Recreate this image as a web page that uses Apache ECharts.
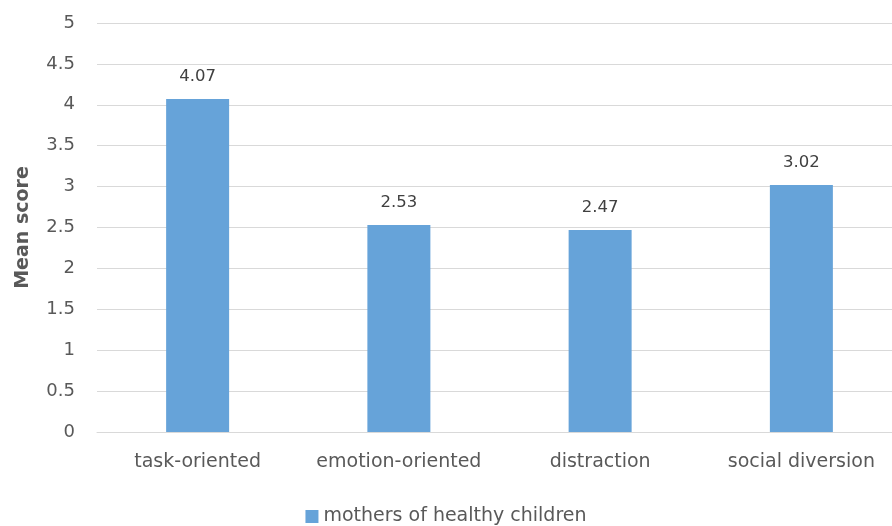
<!DOCTYPE html>
<html><head><meta charset="utf-8">
<script src="https://cdn.jsdelivr.net/npm/echarts@6/dist/echarts.min.js"></script>
<style>html,body{margin:0;padding:0;background:#fff;}#c{width:892px;height:526px;}</style>
</head><body><div id="c"></div>
<script>
const categories = ['task-oriented','emotion-oriented','distraction','social diversion'];
const values = [4.07, 2.53, 2.47, 3.02];
const seriesName = 'mothers of healthy children';
const FONT = '"DejaVu Sans",sans-serif';
const chart = echarts.init(document.getElementById('c'), null, {renderer:'canvas'});
chart.setOption({
  animation:false,
  textStyle:{fontFamily:FONT},
  grid:{left:97, top:23, width:805, height:409, outerBoundsMode:'none', containLabel:false},
  legend:{bottom:-5, left:'center', data:[seriesName], icon:'rect', itemWidth:13, itemHeight:13, itemGap:5,
    textStyle:{color:'#595959', fontSize:19, fontFamily:FONT}},
  xAxis:{type:'category', data:categories,
    axisLine:{lineStyle:{color:'#D9D9D9'}}, axisTick:{show:false},
    axisLabel:{color:'#595959', fontSize:19, margin:21, interval:0, hideOverlap:false, fontFamily:FONT}},
  yAxis:{type:'value', min:0, max:5, interval:0.5,
    name:'Mean score', nameLocation:'middle', nameGap:64, nameRotate:90,
    nameTextStyle:{color:'#595959', fontSize:19, fontWeight:'bold', fontFamily:FONT},
    axisLine:{show:false}, axisTick:{show:false},
    splitLine:{lineStyle:{color:'#D9D9D9'}},
    axisLabel:{color:'#595959', fontSize:18, margin:22, fontFamily:FONT}},
  series:[{name:seriesName, type:'bar', data:values, barWidth:63,
    itemStyle:{color:'#66A3D9'},
    label:{show:true, position:'top', distance:14, color:'#404040', fontSize:16.5, fontFamily:FONT,
      formatter:p=>p.value.toFixed(2)}}]
});
</script></body></html>
